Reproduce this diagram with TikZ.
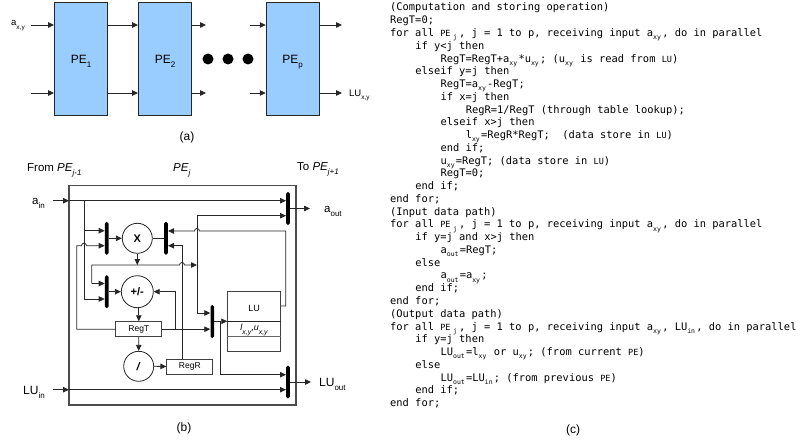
\documentclass[tikz,border=0pt]{standalone}
\usepackage{fontspec}
\setmainfont{Liberation Sans}
\newfontfamily\codefont{DejaVu Sans Mono}
\usepackage{tikz}
\usetikzlibrary{arrows.meta}

\definecolor{peblue}{HTML}{99CCFF}

\newcommand{\lowtxt}[2]{\raisebox{-0.36em}{\fontsize{#1}{#1}\selectfont #2}}
\newcommand{\cs}[1]{\raisebox{-0.3em}{\fontsize{6.5}{6.5}\selectfont #1}\hspace{1.2pt}}
\newcommand{\smc}[1]{{\fontsize{8.5}{8.5}\selectfont #1}}
\newcommand{\pej}{\smc{PE}\hspace{2.5pt}\cs{j}\hspace{1pt}}
\newcommand{\codeln}[3]{\node[codetxt] (code#1) at ({390+6.3*#2}, {11+12.76*(#1-1)}) {#3};}

\tikzset{
    flow/.style={-{Triangle[length=6pt,width=5.5pt]}, line width=0.8pt, draw=black!85},
    wire/.style={line width=0.8pt, draw=black!85},
    pebox/.style={draw=black!85, line width=0.9pt, fill=peblue, minimum width=53pt, minimum height=113pt, text height=8.6pt, text depth=0pt, font=\fontsize{12}{12}\selectfont},
    dotnode/.style={circle, fill=black, minimum size=11pt, inner sep=0pt},
    muxbar/.style={fill=black, rounded corners=1.7pt, minimum width=3.6pt, inner sep=0pt},
    opnode/.style={circle, draw=black!85, line width=0.8pt, fill=white, inner sep=0pt, font=\bfseries\fontsize{11}{11}\selectfont},
    regbox/.style={draw=black!75, line width=0.9pt, fill=white, minimum width=46pt, minimum height=15pt, inner sep=0pt, font=\fontsize{8.5}{8.5}\selectfont},
    lab/.style={anchor=base west, inner sep=0pt, font=\fontsize{11}{11}\selectfont},
    captxt/.style={inner sep=0pt, font=\fontsize{12}{12}\selectfont},
    codetxt/.style={anchor=base west, inner sep=0pt, font=\codefont\fontsize{10.4}{10.4}\selectfont}
}

\begin{document}
\begin{tikzpicture}[x=1pt, y=-1pt]

\useasboundingbox (0,0) rectangle (800,444);

% (a)
\node[pebox] (pe1) at (81,59) {PE\lowtxt{8}{1}};

\node[pebox] (pe2) at (165,59) {PE\lowtxt{8}{2}};

\node[pebox] (pep) at (292.7,59) {PE\lowtxt{8}{p}};

\foreach \dx in {208,228,248} {
    \node[dotnode] (dot\dx) at (\dx,59) {};
}

\foreach \py in {25,93} {
    \draw[flow] (31,\py) -- (pe1.west |- 0,\py);
    \draw[flow] (pe1.east |- 0,\py) -- (pe2.west |- 0,\py);
    \draw[flow] (pe2.east |- 0,\py) -- (206,\py);
    \draw[flow] (250,\py) -- (pep.west |- 0,\py);
    \draw[flow] (pep.east |- 0,\py) -- (342,\py);
}

\node[lab, font=\fontsize{9.5}{9.5}\selectfont] (ainA) at (11,26) {a\lowtxt{6.5}{x,y}};

\node[lab, font=\fontsize{9.5}{9.5}\selectfont] (luA) at (349,96.5) {LU\lowtxt{6.5}{x,y}};

\node[captxt] (capa) at (187,137) {(a)};

% (b)
\draw[draw=black!70, line width=1.1pt] (69,185.7) rectangle (296,405);

\node[lab, font=\fontsize{11.5}{11.5}\selectfont] (from) at (27,171) {From \textit{PE\lowtxt{8}{j-1}}};

\node[lab, font=\fontsize{11.5}{11.5}\selectfont] (pej) at (173,171) {\textit{PE\lowtxt{8}{j}}};

\node[lab, font=\fontsize{11.5}{11.5}\selectfont] (to) at (297,170) {To \textit{PE\lowtxt{8}{j+1}}};

\node[muxbar, minimum height=33pt] (muxout) at (288,208.5) {};

\node[muxbar, minimum height=33pt] (muxl) at (106.7,238.3) {};

\node[muxbar, minimum height=33pt] (muxr) at (166,238.3) {};

\node[muxbar, minimum height=33pt] (muxs) at (106.7,291.7) {};

\node[muxbar, minimum height=33pt] (muxlu) at (212.3,321.5) {};

\node[muxbar, minimum height=33pt] (muxend) at (288,382) {};

\node[opnode, minimum size=30pt] (mul) at (137.3,238.3) {X};

\node[opnode, minimum size=32pt] (add) at (137.3,291.7) {+/-};

\node[opnode, minimum size=30pt] (dvd) at (138.7,366.3) {\textit{/}};

\node[regbox] (regt) at (138.8,329.2) {RegT};

\node[regbox] (regr) at (189.8,366.5) {RegR};

\node[draw=black!75, line width=0.9pt, minimum width=53pt, minimum height=60pt, inner sep=0pt] (lu) at (254.2,321.7) {};

\draw[wire] (lu.west |- 0,321.3) -- (lu.east |- 0,321.3);

\draw[draw=black!60, line width=0.9pt] (lu.west |- 0,336.7) -- (lu.east |- 0,336.7);

\node[inner sep=0pt, font=\fontsize{9}{9}\selectfont] (lutxt) at (254,308) {LU};

\node[inner sep=0pt, font=\fontsize{9}{9}\selectfont] (luval) at (254,330) {\textit{l\lowtxt{7}{x,y}},\textit{u\lowtxt{7}{x,y}}};

% inputs and outputs
\node[lab, font=\fontsize{11.5}{11.5}\selectfont] (ain) at (32,204.5) {a\lowtxt{8}{in}};

\node[lab, font=\fontsize{11.5}{11.5}\selectfont] (aout) at (324,212.5) {a\lowtxt{8}{out}};

\node[lab, font=\fontsize{12}{12}\selectfont] (luin) at (23,394) {LU\lowtxt{8}{in}};

\node[lab, font=\fontsize{12}{12}\selectfont] (luout) at (319,386) {LU\lowtxt{8}{out}};

\coordinate (aport) at (69,200.7);

\coordinate (luport) at (69,389.7);

\draw[flow] (53,200.7) -- (aport);

\draw[flow] (aport) -- (muxout.west |- aport);

\draw[flow] (53,389.7) -- (luport);

\draw[flow] (luport) -- (muxend.west |- luport);

\draw[flow] (muxout.east) -- (310,208.5);

\draw[flow] (muxend.east) -- (311,382);

% around the multiplier
\draw[flow] (84,200.7) -- (84,230.7) -- (muxl.west |- 0,230.7);

\draw[flow] (84,230.7) -- (84,299) -- (muxs.west |- 0,299);

\draw[flow] (regt.west) -- (76.7,329.2) -- (76.7,245.7) -- (81.5,245.7) arc (180:360:2.5) -- (muxl.west |- 0,245.7);

\draw[flow] (muxl.east) -- (mul.west);

\draw[wire] (mul.east) -- (muxr.west);

\draw[flow] (mul.south) -- (137.3,265);

\draw[flow] (91.7,283.5) -- (muxs.west |- 0,283.5);

\draw[flow] (91.7,283.5) -- (91.7,265) -- (179.5,265) arc (180:360:2.5) -- (197,265);

\draw[flow] (regr.north -| 182,0) -- (182,245.7) -- (muxr.east |- 0,245.7);

\draw[flow] (lu.east |- 0,306) -- (285.7,306) -- (285.7,231) -- (199.5,231) arc (0:-180:2.5) -- (muxr.east |- 0,231);

% around the adder and registers
\draw[flow] (muxs.east) -- (add.west);

\draw[flow] (add.south -| regt.north) -- (regt.north);

\draw[flow] (regt.south) -- (dvd.north);

\draw[flow] (dvd.east) -- (regr.west);

\draw[flow] (regt.east) -- (175,329.2) -- (175,291.7) -- (add.east);

\draw[flow] (regt.east) -- (muxlu.west |- regt.east);

\draw[flow] (197,215.7) -- (muxout.west |- 0,215.7);

\draw[flow] (197,215.7) -- (197,313) -- (muxlu.west |- 0,313);

\draw[flow] (muxlu.east |- 0,321.3) -- (lu.west |- 0,321.3);

\draw[flow] (220,321.3) -- (220,374.7) -- (muxend.west |- 0,374.7);

\node[captxt] (capb) at (184,428) {(b)};

% (c)
\codeln{1}{0}{(Computation and storing operation)}
\codeln{2}{0}{RegT=0;}
\codeln{3}{0}{for all \pej, j = 1 to p, receiving input a\cs{xy}, do in parallel}
\codeln{4}{4}{if y<j then}
\codeln{5}{8}{RegT=RegT+a\cs{xy}*u\cs{xy}; (u\cs{xy} is read from \smc{LU})}
\codeln{6}{4}{elseif y=j then}
\codeln{7}{8}{RegT=a\cs{xy}-RegT;}
\codeln{8}{8}{if x=j then}
\codeln{9}{12}{RegR=1/RegT (through table lookup);}
\codeln{10}{8}{elseif x>j then}
\codeln{11}{12}{l\cs{xy}=RegR*RegT;~~(data store in \smc{LU})}
\codeln{12}{8}{end if;}
\codeln{13}{8}{u\cs{xy}=RegT; (data store in \smc{LU})}
\codeln{14}{8}{RegT=0;}
\codeln{15}{4}{end if;}
\codeln{16}{0}{end for;}
\codeln{17}{0}{(Input data path)}
\codeln{18}{0}{for all \pej, j = 1 to p, receiving input a\cs{xy}, do in parallel}
\codeln{19}{4}{if y=j and x>j then}
\codeln{20}{8}{a\cs{out}=RegT;}
\codeln{21}{4}{else}
\codeln{22}{8}{a\cs{out}=a\cs{xy};}
\codeln{23}{4}{end if;}
\codeln{24}{0}{end for;}
\codeln{25}{0}{(Output data path)}
\codeln{26}{0}{for all \pej, j = 1 to p, receiving input a\cs{xy}, LU\cs{in}, do in parallel}
\codeln{27}{4}{if y=j then}
\codeln{28}{8}{LU\cs{out}=l\cs{xy} or u\cs{xy}; (from current \smc{PE})}
\codeln{29}{4}{else}
\codeln{30}{8}{LU\cs{out}=LU\cs{in}; (from previous \smc{PE})}
\codeln{31}{4}{end if;}
\codeln{32}{0}{end for;}

\node[captxt] (capc) at (573,430) {(c)};

\end{tikzpicture}
\end{document}
